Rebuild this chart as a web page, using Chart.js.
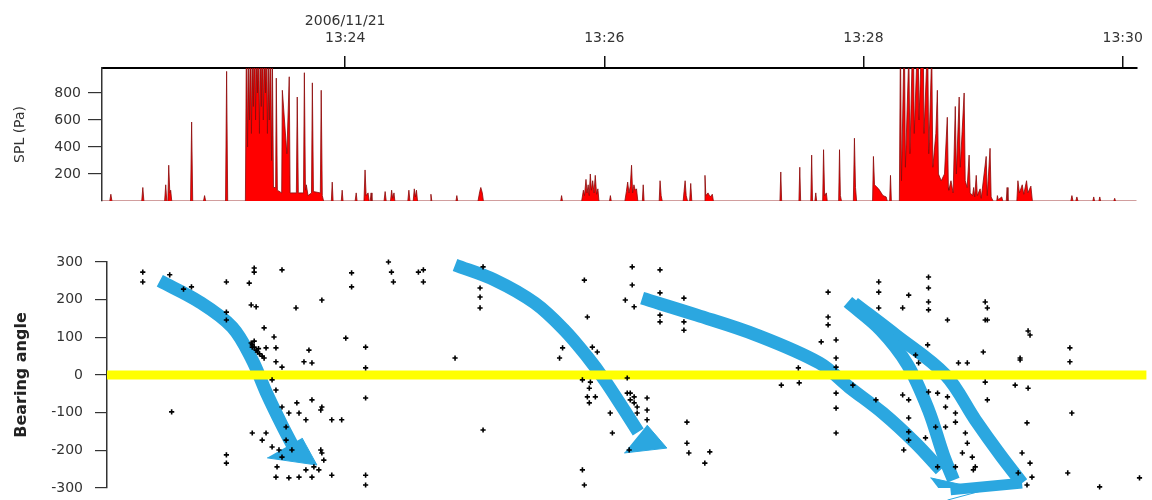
<!DOCTYPE html>
<html>
<head>
<meta charset="utf-8">
<script src="https://cdn.jsdelivr.net/npm/chart.js@4/dist/chart.umd.min.js"></script>
<style>
  html, body { margin: 0; padding: 0; background: #fff; }
  #wrap { position: relative; width: 1152px; height: 500px; overflow: hidden; }
  canvas { position: absolute; left: 0; }
  #splChart { top: 0; }
  #bearChart { top: 215px; }
</style>
</head>
<body>
<div id="wrap">
  <canvas id="splChart" width="1152" height="215"></canvas>
  <canvas id="bearChart" width="1152" height="285"></canvas>
</div>
<script>
// time is in seconds after 13:22:00 (2006/11/21)
var tickTimes = [120, 240, 360, 480];
var tickLabels = [['2006/11/21', '13:24'], '13:26', '13:28', '13:30'];
var splTicks = [200, 400, 600, 800];

// SPL trace: [time, Pa]
var splTrace = [
  [7.4,0],[11.0,0],[11.5,50],[12.0,0],[25.8,0],[26.3,100],[26.8,0],
  [36.4,0],[36.9,120],[37.4,0],[37.9,0],[38.3,265],[38.8,60],[39.2,80],[39.7,0],
  [48.4,0],[48.9,585],[49.4,0],[54.4,0],[54.9,40],[55.4,0],[64.6,0],[65.1,960],[65.6,0],
  [73.8,0],[74.3,1300],[74.8,400],[75.2,1100],[75.7,600],[76.2,1400],[76.6,500],[77.1,1200],
  [77.5,700],[78.0,1500],[78.5,600],[78.9,1200],[79.4,800],[79.8,1400],[80.3,500],[80.8,1300],
  [81.2,700],[81.7,1500],[82.1,600],[82.6,1200],[83.1,800],[83.5,1400],[84.0,500],[84.4,1100],
  [84.9,600],[85.4,1300],[85.9,300],[86.3,1050],[86.8,100],
  [87.8,100],[88.1,910],[88.6,80],[90.6,60],[90.9,820],[93.0,350],[94.1,920],[94.5,60],
  [97.4,60],[97.8,770],[98.3,60],[100.7,60],[101.1,950],[101.6,80],[102.0,120],[102.8,40],
  [104.4,60],[104.8,875],[105.3,70],[108.5,60],[108.9,820],[109.4,40],[110.0,0],
  [113.6,0],[114.0,140],[114.4,0],[118.2,0],[118.6,80],[119.0,0],[124.6,0],[125.1,60],[125.5,0],
  [128.7,0],[129.2,230],[129.7,40],[130.6,60],[131.1,0],[131.6,0],[132.0,60],[132.4,0],
  [138.0,0],[138.5,70],[139.0,0],[141.0,0],[141.5,80],[142.0,20],[142.6,60],[143.0,0],
  [149.0,0],[149.5,80],[150.0,0],[151.5,0],[152.0,90],[152.5,30],[153.0,80],[153.5,0],
  [159.3,0],[159.7,50],[160.1,0],[171.3,0],[171.7,40],[172.1,0],
  [181.5,0],[182.3,70],[182.8,100],[183.5,60],[184.0,0],[219.8,0],[220.2,40],[220.6,0],
  [229.5,0],[230.3,80],[230.8,40],[231.5,160],[232.0,60],[232.5,120],[233.0,40],[233.5,200],
  [234.0,80],[234.6,150],[235.2,60],[235.8,190],[236.4,50],[237.0,90],[237.5,0],
  [242.4,0],[242.8,40],[243.2,0],
  [249.5,0],[250.2,70],[250.8,140],[251.4,60],[252.0,110],[252.6,265],[253.1,60],[253.7,120],
  [254.3,80],[254.9,90],[255.5,0],[257.6,0],[258.0,120],[258.4,0],
  [265.4,0],[265.8,150],[266.3,40],[266.8,0],
  [276.5,0],[276.9,70],[277.4,150],[277.9,40],[278.5,0],[279.5,0],[280.0,130],[280.5,0],
  [286.2,0],[286.6,190],[287.0,40],[288.0,60],[289.0,30],[290.0,50],[290.5,0],
  [321.3,0],[321.7,215],[322.1,0],[330.1,0],[330.5,250],[330.9,0],
  [335.6,0],[336.0,340],[336.4,0],[337.5,0],[337.9,60],[338.3,0],
  [341.1,0],[341.5,380],[342.0,40],[342.8,60],[343.2,0],[348.5,0],[348.9,380],[349.3,40],[349.8,0],
  [355.3,0],[355.8,465],[356.3,100],[356.8,0],
  [364.2,0],[364.6,330],[365.1,120],[367.0,90],[369.0,40],[370.5,30],[371.0,0],
  [372.1,0],[372.5,190],[372.9,0],
  [376.6,0],[377.1,1200],[377.6,150],[378.9,1300],[379.4,250],[381.0,1100],[381.5,350],
  [383.0,1400],[383.5,500],[385.2,1300],[385.7,600],[387.5,1500],[388.0,500],[389.7,1200],
  [390.2,350],[391.6,1100],[392.1,250],[393.5,500],[394.2,820],[394.7,200],[396.0,150],
  [397.5,200],[398.8,620],[399.3,100],[399.5,80],[400.5,150],[401.5,60],[402.5,700],[403.0,200],
  [404.3,770],[404.8,250],[406.6,800],[407.1,150],[408.0,100],[408.9,340],[409.4,60],[410.5,40],
  [411.0,100],[411.5,30],[412.2,190],[412.7,40],[414.0,90],[414.5,20],[416.8,330],[417.3,40],
  [418.6,390],[419.1,30],[420.0,0],
  [421.7,0],[422.0,40],[422.4,10],[424.0,30],[424.5,0],[426.1,0],[426.5,100],[426.9,0],
  [431.0,0],[431.5,150],[432.2,60],[433.5,120],[434.2,50],[435.5,150],[436.1,60],[437.5,110],[438.2,0],
  [456.0,0],[456.5,40],[457.0,0],[458.3,0],[458.8,30],[459.3,0],
  [466.2,0],[466.6,30],[467.0,0],[469.0,0],[469.4,30],[469.8,0],
  [475.9,0],[476.3,20],[476.7,0],[486.5,0]
];

// bearing angle detections: [time, degrees]
var bearingPoints = [
  [26.3,273],[26.3,247],[38.8,266],[48.9,234],[45.2,228],[65.1,247],[65.1,167],[65.1,146],
  [75.7,244],[78.0,284],[78.0,273],[90.9,279],[76.6,186],[78.9,181],[97.4,178],[109.4,199],
  [123.2,271],[123.2,234],[120.5,98],[129.7,74],[82.6,125],[87.2,101],[88.1,72],[83.5,72],[77.1,74],
  [76.6,85],[77.1,80],[78.0,74],[78.9,66],[79.5,61],[80.5,56],[81.7,50],[82.6,45],[78.0,90],[80.0,70],
  [103.4,66],[101.1,35],[104.8,32],[88.1,35],[90.9,21],[129.7,19],[39.7,-98],[65.1,-212],[65.1,-234],
  [86.3,-13],[88.1,-40],[90.9,-85],[94.1,-101],[97.8,-74],[98.8,-101],[102.0,-119],[104.8,-66],
  [109.4,-85],[108.9,-93],[114.0,-119],[118.6,-119],[129.7,-61],[77.1,-154],[81.7,-173],[83.5,-154],
  [86.3,-191],[89.5,-199],[92.8,-173],[95.5,-199],[90.9,-218],[88.6,-244],[88.1,-271],[94.1,-273],
  [98.8,-271],[104.8,-271],[108.0,-252],[109.4,-207],[110.3,-226],[108.9,-199],[114.0,-266],
  [129.7,-266],[129.7,-292],[105.7,-244],[102.0,-252],[92.8,-138],
  [140.3,300],[141.7,273],[142.6,247],[154.2,273],[156.5,279],[156.5,247],[171.2,45],[184.2,-146],
  [184.2,287],[182.8,231],[182.8,207],[182.8,178],
  [231.2,252],[232.6,154],[221.1,72],[219.7,45],[234.9,74],[237.2,61],[230.3,-13],[234.0,-19],
  [233.5,-35],[232.6,-58],[236.3,-58],[233.5,-74],[243.2,-101],[244.2,-154],[251.1,-48],[252.5,-48],
  [254.3,-58],[252.5,-66],[254.3,-74],[255.7,-85],[260.3,-61],[260.3,-93],[260.3,-119],[255.7,-101],
  [251.1,-8],[252.0,-199],[278.8,-125],[278.8,-181],[279.7,-207],[289.4,-204],[287.1,-234],
  [230.3,-252],[231.2,-292],[253.4,287],[266.3,279],[253.4,239],[250.2,199],[254.3,181],[266.3,218],
  [266.3,159],[266.3,141],[277.4,204],[277.4,141],[277.4,119],
  [344.3,220],[344.3,154],[344.3,133],[341.1,88],[348.0,93],[348.0,45],[348.0,21],[330.5,19],
  [322.6,-27],[330.9,-21],[348.0,-48],[348.0,-88],[348.0,-154],[355.8,-27],[366.5,-66],[367.8,247],
  [367.8,220],[367.8,178],[381.7,212],[378.9,178],[390.9,260],[390.9,231],[390.9,194],[390.9,173],
  [399.7,146],[418.2,178],[418.2,146],[438.0,106],[416.3,61],[433.4,45],[456.5,72],[456.5,35],
  [457.4,-101],[436.6,-127],[455.5,-260],[470.3,-297],[488.8,-273],[434.3,-207],[438.0,-234],
  [438.9,-271],[436.6,-292],[432.5,-260],[386.3,32],[384.9,53],[390.5,80],[404.8,32],[408.9,32],
  [417.2,-19],[418.2,-66],[431.1,-27],[437.1,-35],[390.9,-45],[395.1,-48],[399.7,-58],[398.8,-85],
  [381.7,-66],[378.9,-53],[403.4,-101],[403.4,-125],[408.0,-154],[408.9,-181],[406.6,-207],
  [411.2,-218],[412.6,-244],[411.7,-252],[395.1,-244],[403.4,-244],[389.5,-167],[381.7,-114],
  [379.4,-199],[381.7,-151],[381.7,-173],[394.2,-138],[398.8,-138],[437.1,117],[433.4,40],
  [417.2,194],[417.2,146]
];

// hand-drawn track arrows: shafts and heads, [time, degrees]
var arrow1 = [[34.2,250],[52.6,194],[67.8,127],[77.1,40],[83.5,-45],[90.9,-133],[96.9,-199]];
var arrow1Head = [[84.0,-220],[107.1,-239],[100.2,-167]];
var arrow2 = [[171.2,292],[189.7,252],[208.2,191],[222.0,119],[232.6,48],[240.5,-13],[249.7,-93],[256.2,-151]];
var arrow2Head = [[249.7,-207],[269.5,-194],[260.3,-133]];
var arrow3 = [[258.0,204],[283.4,159],[311.1,106],[340.2,32],[354.0,-32],[369.7,-101],[384.9,-181],[396.5,-252]];
var arrow4a = [[353.5,194],[368.8,119],[381.2,27],[390.9,-93],[397.8,-212],[402.5,-279]];
var arrow4b = [[356.3,191],[375.7,106],[398.8,0],[412.6,-119],[424.2,-212],[434.3,-287]];
var arrow4Base = [[401.1,-305],[434.3,-287]];
var arrow34Head = [[391.8,-273],[417.2,-305],[399.7,-332]];

var zeroLine = [[9.7,0],[492.0,0]];

var txt = '#333';
var fam = 'DejaVu Sans';
function xy(list) { return list.map(function (p) { return { x: p[0], y: p[1] }; }); }
function fixTicks(values) {
  return function (s) { s.ticks = values.map(function (v) { return { value: v }; }); };
}
// fixed axis width, and no extra room for the end labels
function fixWidth(w) {
  return function (s) { s.width = w; s.paddingTop = 0; s.paddingBottom = 0; };
}

new Chart(document.getElementById('splChart'), {
  type: 'line',
  data: {
    datasets: [{
      data: xy(splTrace),
      borderColor: '#8c0a0a',
      backgroundColor: '#ff0000',
      borderWidth: 0.8,
      fill: 'origin',
      pointRadius: 0,
      tension: 0
    }]
  },
  options: {
    responsive: false,
    animation: false,
    devicePixelRatio: 1,
    layout: { padding: { left: 0, right: 12, top: 0, bottom: 14 } },
    plugins: { legend: { display: false }, tooltip: { enabled: false } },
    scales: {
      x: {
        type: 'linear', position: 'top', min: 7.4, max: 486.5,
        afterFit: function (s) { s.height = 68; },
        afterBuildTicks: fixTicks(tickTimes),
        ticks: {
          autoSkip: false, maxRotation: 0, padding: 9, color: txt,
          font: { family: fam, size: 14 },
          callback: function (v, i) { return tickLabels[i]; }
        },
        grid: { drawOnChartArea: false, tickLength: 12, color: '#111', lineWidth: 1.5 },
        border: { color: '#000', width: 2 }
      },
      y: {
        min: 0, max: 985,
        afterFit: fixWidth(102),
        afterBuildTicks: fixTicks(splTicks),
        ticks: { padding: 7, color: txt, font: { family: fam, size: 14 } },
        grid: { drawOnChartArea: false, tickLength: 14, color: '#333', lineWidth: 1.2 },
        border: { color: '#333', width: 1.5 },
        title: { display: true, text: 'SPL (Pa)', color: txt, font: { family: fam, size: 14 }, padding: { top: 12, bottom: 0 } }
      }
    }
  }
});

var blue = '#2ba7e0';
function shaft(list) {
  return { data: xy(list), borderColor: blue, borderWidth: 13, pointRadius: 0, tension: 0.35, fill: false, clip: false, borderCapStyle: 'butt' };
}
function head(list) {
  return { data: xy(list), borderColor: blue, backgroundColor: blue, borderWidth: 1, pointRadius: 0, tension: 0, fill: 'shape', clip: false };
}

new Chart(document.getElementById('bearChart'), {
  type: 'line',
  data: {
    datasets: [
      {
        data: xy(bearingPoints), showLine: false, pointStyle: 'cross',
        pointRadius: 2.6, borderColor: '#000', pointBorderWidth: 1.6, clip: false
      },
      { data: xy(zeroLine), borderColor: '#ffff00', borderWidth: 9, pointRadius: 0, clip: false },
      head(arrow1Head), head(arrow2Head), head(arrow34Head),
      shaft(arrow1), shaft(arrow2), shaft(arrow3), shaft(arrow4a), shaft(arrow4b),
      Object.assign(shaft(arrow4Base), { borderWidth: 11, tension: 0 })
    ]
  },
  options: {
    responsive: false,
    animation: false,
    devicePixelRatio: 1,
    layout: { padding: { left: 0, right: 0, top: 47, bottom: 12 } },
    plugins: { legend: { display: false }, tooltip: { enabled: false } },
    scales: {
      x: { type: 'linear', display: false, min: 9.7, max: 492.0 },
      y: {
        min: -300, max: 300,
        afterFit: fixWidth(107),
        ticks: { stepSize: 100, padding: 12, color: txt, font: { family: fam, size: 14 } },
        grid: { drawOnChartArea: false, tickLength: 12, color: '#333', lineWidth: 1.2 },
        border: { color: '#333', width: 1.5 },
        title: { display: true, text: 'Bearing angle', color: '#222', font: { family: fam, size: 16, weight: 'bold' }, padding: { top: 12, bottom: 0 } }
      }
    }
  }
});
</script>
</body>
</html>
